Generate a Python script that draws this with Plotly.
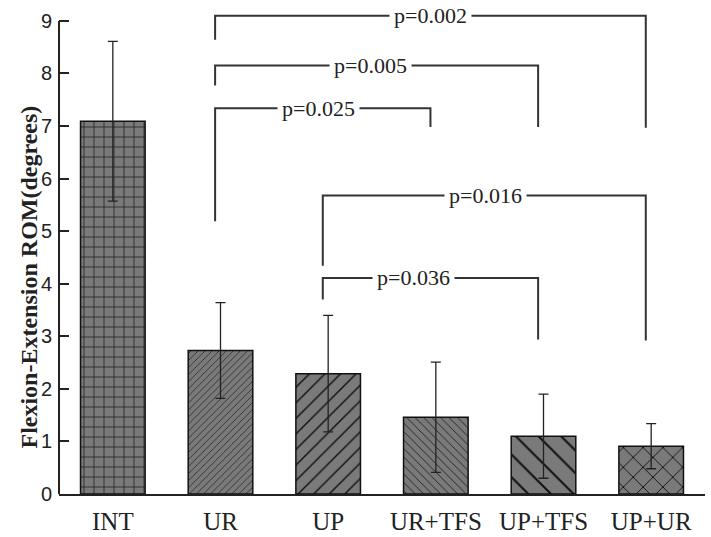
import plotly.graph_objects as go

groups = ["INT", "UR", "UP", "UR+TFS", "UP+TFS", "UP+UR"]
rom_mean = [7.09, 2.73, 2.29, 1.46, 1.10, 0.91]
rom_sd = [1.52, 0.91, 1.11, 1.05, 0.80, 0.43]

# significance brackets (left group, right group, p value, bracket height, leg ends)
sig_left = ["UR", "UR", "UR", "UP", "UP"]
sig_right = ["UP+UR", "UP+TFS", "UR+TFS", "UP+UR", "UP+TFS"]
sig_label = ["p=0.002", "p=0.005", "p=0.025", "p=0.016", "p=0.036"]
sig_level = [9.10, 8.15, 7.34, 5.68, 4.11]
sig_left_end = [8.64, 7.77, 5.19, 4.34, 3.70]
sig_right_end = [6.97, 6.98, 6.98, 2.92, 2.94]
sig_text_frac = [0.50, 0.48, 0.48, 0.505, 0.42]

hatch = ["+", "/", "/", "\\", "\\", "x"]
hatch_size = [10, 5, 11, 6, 16, 14]

INK = "#222222"
SERIF = "Liberation Serif, Times New Roman, serif"

fig = go.Figure()
fig.add_trace(go.Bar(
    x=groups, y=rom_mean, width=0.6,
    error_y=dict(type="data", array=rom_sd, visible=True,
                 color=INK, thickness=1.3, width=5),
    marker=dict(
        color="#7a7a7a",
        line=dict(color="#111111", width=1.5),
        pattern=dict(shape=hatch, size=hatch_size, solidity=0.13,
                     fgcolor="#111111", bgcolor="#7a7a7a", fillmode="replace"),
    ),
    showlegend=False,
))

# y axis line only up to 9
fig.add_shape(type="line", xref="paper", yref="y", x0=0, x1=0, y0=0, y1=9,
              line=dict(color=INK, width=2))

off = -0.05
for i in range(len(sig_label)):
    xl = groups.index(sig_left[i]) + off
    xr = groups.index(sig_right[i]) + off
    lvl = sig_level[i]
    fig.add_shape(type="path", xref="x", yref="y",
                  path=f"M {xl},{sig_left_end[i]} L {xl},{lvl} L {xr},{lvl} L {xr},{sig_right_end[i]}",
                  line=dict(color="#333333", width=2))
    fig.add_annotation(x=xl + (xr - xl) * sig_text_frac[i], y=lvl, xref="x", yref="y",
                       text=sig_label[i], showarrow=False, bgcolor="white", borderpad=4,
                       font=dict(family=SERIF, size=22, color=INK))

fig.add_annotation(text="<b>Flexion-Extension ROM(degrees)</b>", textangle=-90,
                   xref="paper", yref="paper", x=0, y=0.441, xshift=-44.5,
                   showarrow=False, font=dict(family=SERIF, size=24, color=INK))

fig.update_layout(
    width=711, height=537,
    margin=dict(l=59, r=6, t=2, b=41),
    plot_bgcolor="white", paper_bgcolor="white",
    bargap=0.4,
    xaxis=dict(range=[-0.5, 5.5], showline=True, linecolor=INK, linewidth=2,
               ticks="", showgrid=False, zeroline=False, ticklabelstandoff=4,
               tickfont=dict(family=SERIF, size=25, color=INK)),
    yaxis=dict(range=[0, 9.36], dtick=1, tick0=0, showline=False, showgrid=False,
               zeroline=False, ticks="inside", ticklen=10, tickwidth=2, tickcolor=INK,
               ticklabelstandoff=6,
               tickfont=dict(family="Liberation Sans, Arial, sans-serif", size=20, color=INK)),
)

fig.write_html("out.html", config={"displayModeBar": False},
               post_script="document.body.style.margin='0px';")
